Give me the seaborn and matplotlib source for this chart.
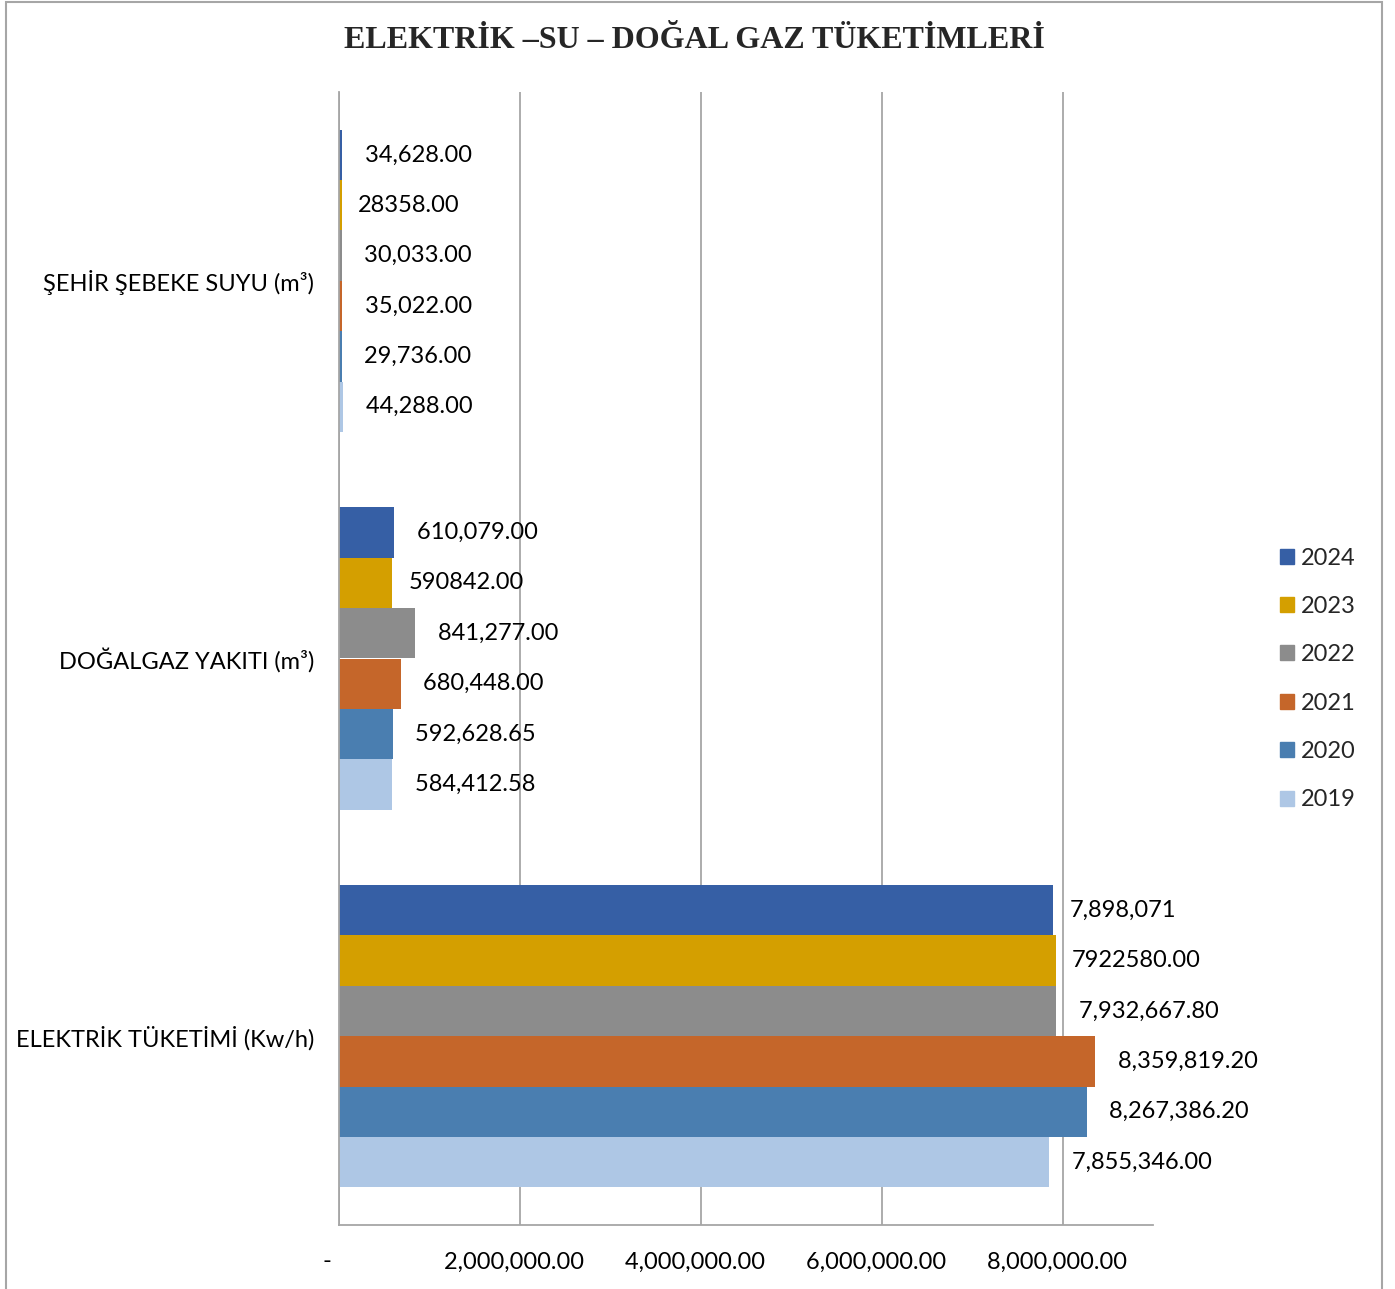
import matplotlib
matplotlib.use("Agg")
import matplotlib.pyplot as plt
import matplotlib.patches as mpatches
from matplotlib.ticker import FuncFormatter, FixedLocator
import seaborn as sns
import pandas as pd

categories = ["ŞEHİR ŞEBEKE SUYU (m³)", "DOĞALGAZ YAKITI (m³)", "ELEKTRİK TÜKETİMİ (Kw/h)"]
years = ["2024", "2023", "2022", "2021", "2020", "2019"]
colors = ["#365FA5", "#D49F00", "#8C8C8C", "#C5662A", "#4A7EB0", "#AEC7E5"]

su_values = [34628.00, 28358.00, 30033.00, 35022.00, 29736.00, 44288.00]
gaz_values = [610079.00, 590842.00, 841277.00, 680448.00, 592628.65, 584412.58]
elektrik_values = [7898071.00, 7922580.00, 7932667.80, 8359819.20, 8267386.20, 7855346.00]

su_labels = [" 34,628.00", "28358.00", " 30,033.00", " 35,022.00", " 29,736.00", " 44,288.00"]
gaz_labels = [" 610,079.00", "590842.00", " 841,277.00", " 680,448.00", " 592,628.65", " 584,412.58"]
elektrik_labels = ["7,898,071", "7922580.00", " 7,932,667.80", " 8,359,819.20", " 8,267,386.20", " 7,855,346.00"]

title = "ELEKTRİK –SU – DOĞAL GAZ TÜKETİMLERİ"
xticks = [0, 2000000, 4000000, 6000000, 8000000]

rows = []
for i, y in enumerate(years):
    rows.append((categories[0], y, su_values[i]))
    rows.append((categories[1], y, gaz_values[i]))
    rows.append((categories[2], y, elektrik_values[i]))
df = pd.DataFrame(rows, columns=["kategori", "yil", "deger"])

sns.set_style("white")
plt.rcParams["font.family"] = ["Lato", "DejaVu Sans"]

fig = plt.figure(figsize=(13.95, 12.89), dpi=100)
ax = fig.add_axes([339 / 1395, 1 - 1225 / 1289, (1153 - 339) / 1395, (1225 - 92) / 1289])

sns.barplot(data=df, y="kategori", x="deger", hue="yil", order=categories,
            hue_order=years, palette=colors, orient="h", width=0.8, gap=0,
            linewidth=0, saturation=1, ax=ax)

grid_c = "#A6A6A6"
ax.set_xlim(0, 9000000)
ax.xaxis.set_major_locator(FixedLocator(xticks))
ax.xaxis.set_major_formatter(FuncFormatter(lambda v, p: "-    " if v == 0 else f"{v:,.2f}  "))
ax.grid(axis="x", color=grid_c, linewidth=1.3)
ax.set_axisbelow(True)
for s in ["top", "right"]:
    ax.spines[s].set_visible(False)
ax.spines["left"].set_color(grid_c)
ax.spines["left"].set_linewidth(1.3)
ax.spines["bottom"].set_color(grid_c)
ax.spines["bottom"].set_linewidth(1.3)
ax.tick_params(axis="x", length=0, pad=19, labelsize=17, labelcolor="black")
ax.tick_params(axis="y", length=0, pad=18, labelsize=17, labelcolor="black")
ax.set_xlabel("")
ax.set_ylabel("")

label_sets = list(zip(su_labels, gaz_labels, elektrik_labels))
for i, cont in enumerate(ax.containers):
    ax.bar_label(cont, labels=list(label_sets[i]), padding=12, fontsize=17, color="black")

handles = [mpatches.Patch(color=c, label=y) for c, y in zip(colors, years)]
ax.legend(handles=handles, loc="center left", bbox_to_anchor=(1280 / 1395, 1 - 679 / 1289),
          bbox_transform=fig.transFigure, frameon=False, fontsize=17,
          handlelength=0.6, handleheight=0.6, handletextpad=0.3,
          labelspacing=1.16, borderpad=0, borderaxespad=0)

fig.text(0.4975, 1 - 40 / 1289, title, ha="center", va="center",
         fontsize=23.0, fontweight="bold", family=["Liberation Serif", "DejaVu Serif"])

fig.patches.append(mpatches.Rectangle((6 / 1395, -0.02), (1382 - 6) / 1395, 1.02 - 2 / 1289,
                                      transform=fig.transFigure, fill=False,
                                      edgecolor=grid_c, linewidth=1.5))

fig.savefig("out.png", dpi=100)
